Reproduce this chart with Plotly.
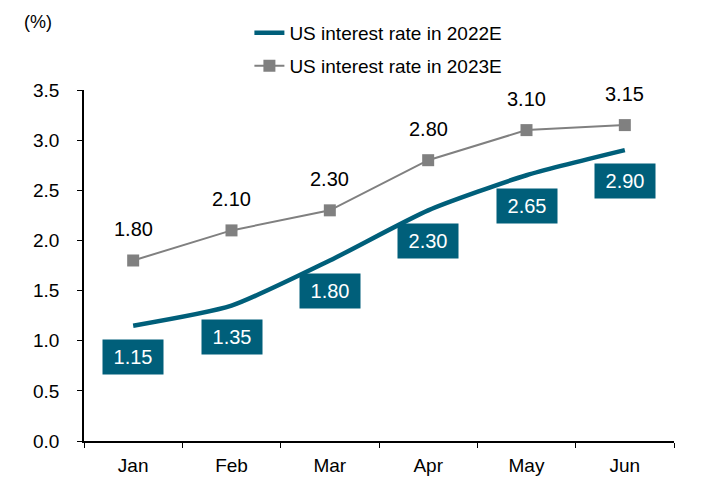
import plotly.graph_objects as go

# Daten
months = ["Jan", "Feb", "Mar", "Apr", "May", "Jun"]
rate_2022 = [1.15, 1.35, 1.80, 2.30, 2.65, 2.90]
rate_2023 = [1.80, 2.10, 2.30, 2.80, 3.10, 3.15]
y_ticks = [0.0, 0.5, 1.0, 1.5, 2.0, 2.5, 3.0, 3.5]

TEAL = "#005F7A"
GREY = "#808080"
FONT = "Liberation Sans, Arial, sans-serif"

fig = go.Figure()

fig.add_trace(go.Scatter(
    x=months, y=rate_2022, name="US interest rate in 2022E",
    mode="lines", line=dict(color=TEAL, width=4.5, shape="spline", smoothing=0.6),
    legend="legend",
))
fig.add_trace(go.Scatter(
    x=months, y=rate_2023, name="US interest rate in 2023E",
    mode="lines+markers", line=dict(color=GREY, width=2),
    marker=dict(symbol="square", size=12, color=GREY),
    legend="legend2",
))

# Datenbeschriftungen
for m, v in zip(months, rate_2022):
    fig.add_annotation(x=m, y=v, text=f"{v:.2f}", showarrow=False, yshift=-31,
                       bgcolor=TEAL, width=58, height=32,
                       font=dict(color="white", size=20, family=FONT))
for m, v in zip(months, rate_2023):
    fig.add_annotation(x=m, y=v, text=f"{v:.2f}", showarrow=False, yshift=31,
                       font=dict(color="black", size=20, family=FONT))

fig.add_annotation(x=0, y=1, xref="paper", yref="paper", xshift=-62, yshift=68,
                   text="(%)", showarrow=False, xanchor="left", yanchor="middle",
                   font=dict(size=18, family=FONT, color="black"))

# Seite hat 8px Body-Rand -> Ränder entsprechend verschoben
fig.update_layout(
    width=710, height=479,
    margin=dict(l=76, r=44, t=82, b=46, autoexpand=False),
    paper_bgcolor="white", plot_bgcolor="white",
    font=dict(family=FONT, size=19, color="black"),
    showlegend=True,
    legend=dict(xref="container", yref="container", x=0.34, y=1 - 25 / 479,
                xanchor="left", yanchor="middle",
                bgcolor="rgba(0,0,0,0)", font=dict(size=19)),
    legend2=dict(xref="container", yref="container", x=0.34, y=1 - 58 / 479,
                 xanchor="left", yanchor="middle",
                 bgcolor="rgba(0,0,0,0)", font=dict(size=19)),
    xaxis=dict(range=[-0.5, 5.5], showline=True, linecolor="black", linewidth=1.5,
               ticks="outside", tickson="boundaries", ticklen=5,
               tickcolor="black", showgrid=False, automargin=False,
               ticklabelstandoff=6, tickfont=dict(size=19)),
    yaxis=dict(range=[0, 3.5], tickvals=y_ticks, tickformat=".1f",
               showline=True, linecolor="black", linewidth=1.5,
               ticks="outside", ticklen=5, tickcolor="black", automargin=False,
               ticklabelstandoff=14,
               showgrid=False, zeroline=False, tickfont=dict(size=19)),
)

fig.write_html("out.html")
